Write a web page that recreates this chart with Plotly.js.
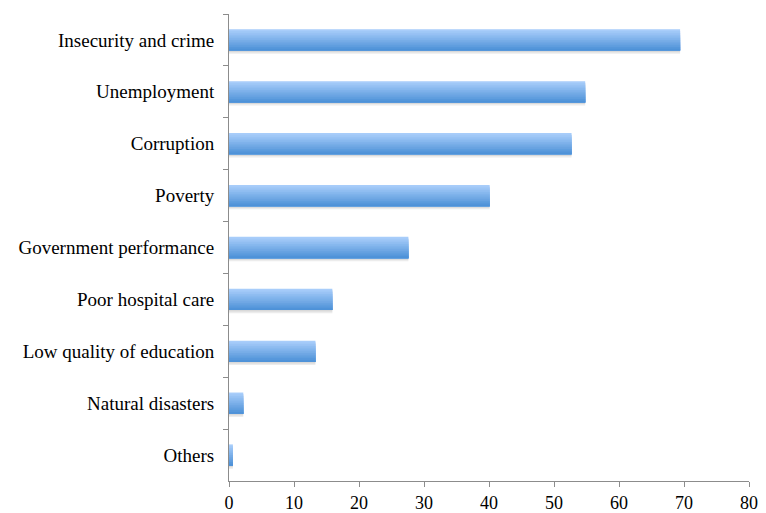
<!DOCTYPE html>
<html>
<head>
<meta charset="utf-8">
<script src="https://cdn.plot.ly/plotly-3.0.1.min.js"></script>
<style>html,body{margin:0;padding:0;background:#fff;}#chart{width:766px;height:513px;}</style>
</head>
<body>
<div id="chart"></div>
<script>
var categories = ["Insecurity and crime","Unemployment","Corruption","Poverty","Government performance","Poor hospital care","Low quality of education","Natural disasters","Others"];
var values = [69.4, 54.8, 52.7, 40.1, 27.6, 15.9, 13.3, 2.2, 0.6];
var xTicks = [0,10,20,30,40,50,60,70,80];

var barWidth = 0.41;
var nStripes = 12;
var light = [168,205,250], dark = [78,146,216];
function mix(t){
  var c = light.map(function(v,i){return Math.round(v+(dark[i]-v)*t);});
  return 'rgb('+c.join(',')+')';
}
var traces = [];
// soft shadow
traces.push({type:'bar', orientation:'h', x: values, y: categories, width: barWidth, offset: -barWidth/2 + 0.06,
  marker:{color:'rgba(150,150,150,0.18)', line:{width:0}}, hoverinfo:'skip', showlegend:false});
traces.push({type:'bar', orientation:'h', x: values, y: categories, width: barWidth, offset: -barWidth/2 + 0.03,
  marker:{color:'rgba(150,150,150,0.22)', line:{width:0}}, hoverinfo:'skip', showlegend:false});
for (var i=0;i<nStripes;i++){
  var t = i/(nStripes-1);
  var w = barWidth/nStripes;
  traces.push({type:'bar', orientation:'h', x: values, y: categories,
    width: barWidth - i*w, offset: -barWidth/2 + i*w,
    marker:{color: mix(t), line:{width:0}}, hoverinfo:'skip', showlegend:false});
}
var layout = {
  width:766, height:513,
  margin:{l:229, r:17, t:14, b:32, pad:0},
  paper_bgcolor:'#fff', plot_bgcolor:'#fff',
  barmode:'overlay',
  font:{family:'"Liberation Serif", serif', size:19, color:'#000'},
  xaxis:{range:[0,80], tickvals:xTicks, ticktext:xTicks.map(String), showgrid:false, zeroline:false,
    showline:true, linecolor:'#8c8c8c', linewidth:1, ticks:'outside', ticklen:5, tickcolor:'#8c8c8c',
    tickfont:{size:18}, fixedrange:true},
  yaxis:{type:'category', categoryorder:'array', categoryarray:categories, autorange:'reversed',
    showgrid:false, zeroline:false, showline:true, linecolor:'#8c8c8c', linewidth:1,
    ticks:'outside', ticklen:5, tickcolor:'#8c8c8c', tickson:'boundaries', ticklabelstandoff:10,
    tickfont:{size:19}, fixedrange:true}
};
Plotly.newPlot('chart', traces, layout, {displayModeBar:false, staticPlot:true});
</script>
</body>
</html>
